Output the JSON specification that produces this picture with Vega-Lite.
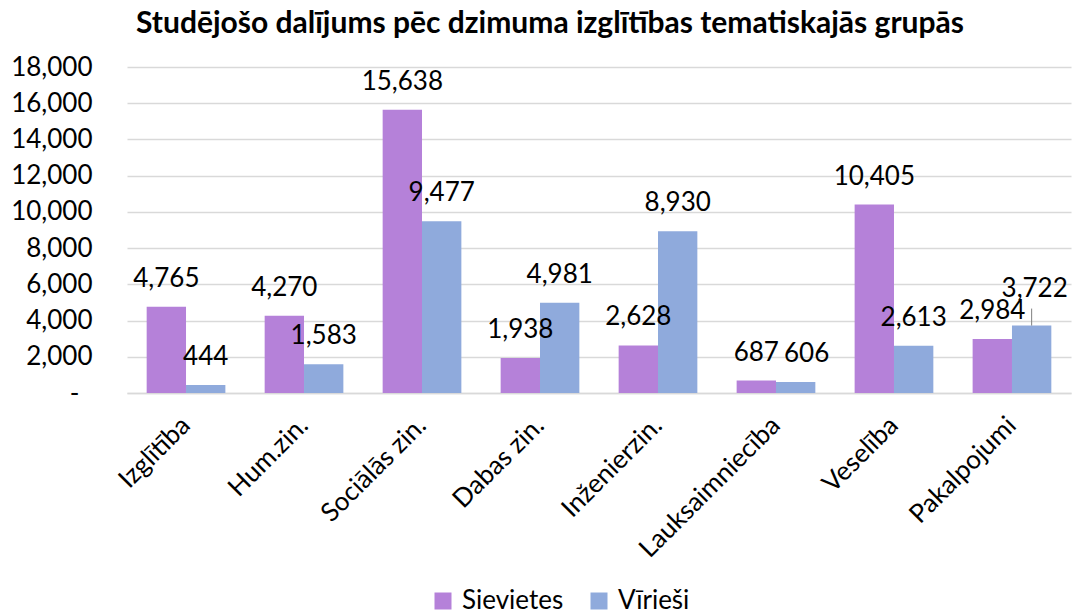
{
  "$schema": "https://vega.github.io/schema/vega-lite/v6.json",
  "autosize": "none",
  "width": 944,
  "height": 326,
  "padding": {"left": 127, "top": 67, "right": 1, "bottom": 217},
  "background": "white",
  "title": {
    "text": "Studējošo dalījums pēc dzimuma izglītības tematiskajās grupās",
    "font": "Lato",
    "fontSize": 30,
    "fontWeight": "bold",
    "color": "#000000",
    "anchor": "middle",
    "dx": -49,
    "offset": 15
  },
  "data": {
    "values": [
      {"Kategorija": "Izglītība", "Dzimums": "Sievietes", "Skaits": 4765},
      {"Kategorija": "Izglītība", "Dzimums": "Vīrieši", "Skaits": 444},
      {"Kategorija": "Hum.zin.", "Dzimums": "Sievietes", "Skaits": 4270},
      {"Kategorija": "Hum.zin.", "Dzimums": "Vīrieši", "Skaits": 1583},
      {"Kategorija": "Sociālās zin.", "Dzimums": "Sievietes", "Skaits": 15638},
      {"Kategorija": "Sociālās zin.", "Dzimums": "Vīrieši", "Skaits": 9477},
      {"Kategorija": "Dabas zin.", "Dzimums": "Sievietes", "Skaits": 1938},
      {"Kategorija": "Dabas zin.", "Dzimums": "Vīrieši", "Skaits": 4981},
      {"Kategorija": "Inženierzin.", "Dzimums": "Sievietes", "Skaits": 2628},
      {"Kategorija": "Inženierzin.", "Dzimums": "Vīrieši", "Skaits": 8930},
      {"Kategorija": "Lauksaimniecība", "Dzimums": "Sievietes", "Skaits": 687},
      {"Kategorija": "Lauksaimniecība", "Dzimums": "Vīrieši", "Skaits": 606},
      {"Kategorija": "Veselība", "Dzimums": "Sievietes", "Skaits": 10405},
      {"Kategorija": "Veselība", "Dzimums": "Vīrieši", "Skaits": 2613},
      {"Kategorija": "Pakalpojumi", "Dzimums": "Sievietes", "Skaits": 2984},
      {"Kategorija": "Pakalpojumi", "Dzimums": "Vīrieši", "Skaits": 3722}
    ]
  },
  "encoding": {
    "x": {
      "field": "Kategorija",
      "type": "nominal",
      "sort": null,
      "scale": {"paddingInner": 0.333, "paddingOuter": 0.1667},
      "axis": {
        "title": null,
        "labelAngle": -45,
        "labelAlign": "right",
        "labelBaseline": "middle",
        "labelPadding": 28,
        "labelFont": "Lato",
        "labelFontSize": 26,
        "labelColor": "#000000",
        "ticks": false,
        "domainColor": "#d9d9d9",
        "domainWidth": 1.5,
        "labelLimit": 400
      }
    },
    "xOffset": {"field": "Dzimums", "type": "nominal", "sort": ["Sievietes", "Vīrieši"]},
    "y": {
      "field": "Skaits",
      "type": "quantitative",
      "scale": {"domain": [0, 18000]},
      "axis": {
        "title": null,
        "values": [0, 2000, 4000, 6000, 8000, 10000, 12000, 14000, 16000, 18000],
        "labelExpr": "datum.value == 0 ? '-' : format(datum.value, ',')",
        "labelFont": "Lato",
        "labelFontSize": 26,
        "labelColor": "#000000",
        "labelPadding": {"condition": {"test": "datum.value == 0", "value": 48}, "value": 35},
        "ticks": false,
        "domain": false,
        "gridColor": "#d9d9d9",
        "gridWidth": 1.5
      }
    }
  },
  "layer": [
    {
      "mark": {"type": "bar"},
      "encoding": {
        "color": {
          "field": "Dzimums",
          "type": "nominal",
          "sort": ["Sievietes", "Vīrieši"],
          "scale": {"domain": ["Sievietes", "Vīrieši"], "range": ["#B581D9", "#8FAADC"]},
          "legend": {
            "title": null,
            "orient": "none",
            "direction": "horizontal",
            "legendX": 303,
            "legendY": 521,
            "symbolType": "square",
            "symbolSize": 289,
            "symbolStrokeWidth": 0,
            "labelFont": "Lato",
            "labelFontSize": 26,
            "labelColor": "#000000",
            "columnPadding": 22,
            "labelOffset": 6,
            "padding": 0
          }
        }
      }
    },
    {
      "transform": [{"filter": "!(datum.Kategorija == 'Pakalpojumi' && datum.Dzimums == 'Vīrieši') && !(datum.Kategorija == 'Lauksaimniecība' && datum.Dzimums == 'Vīrieši')"}],
      "mark": {"type": "text", "baseline": "alphabetic", "dy": -20, "font": "Lato", "fontSize": 26, "color": "#000000"},
      "encoding": {
        "text": {"field": "Skaits", "type": "quantitative", "format": ","}
      }
    },
    {
      "transform": [{"filter": "datum.Kategorija == 'Lauksaimniecība' && datum.Dzimums == 'Vīrieši'"}],
      "mark": {"type": "text", "baseline": "alphabetic", "dy": -20, "dx": 11, "font": "Lato", "fontSize": 26, "color": "#000000"},
      "encoding": {
        "text": {"field": "Skaits", "type": "quantitative", "format": ","}
      }
    },
    {
      "transform": [{"filter": "datum.Kategorija == 'Pakalpojumi' && datum.Dzimums == 'Vīrieši'"}],
      "mark": {"type": "text", "baseline": "alphabetic", "dy": -29, "dx": 3, "font": "Lato", "fontSize": 26, "color": "#000000"},
      "encoding": {
        "text": {"field": "Skaits", "type": "quantitative", "format": ","}
      }
    },
    {
      "transform": [{"filter": "datum.Kategorija == 'Pakalpojumi' && datum.Dzimums == 'Vīrieši'"}],
      "mark": {"type": "rule", "color": "#7f7f7f", "strokeWidth": 1, "yOffset": -17, "y2Offset": 0},
      "encoding": {
        "y2": {"field": "Skaits"}
      }
    }
  ],
  "config": {"view": {"stroke": null}}
}
